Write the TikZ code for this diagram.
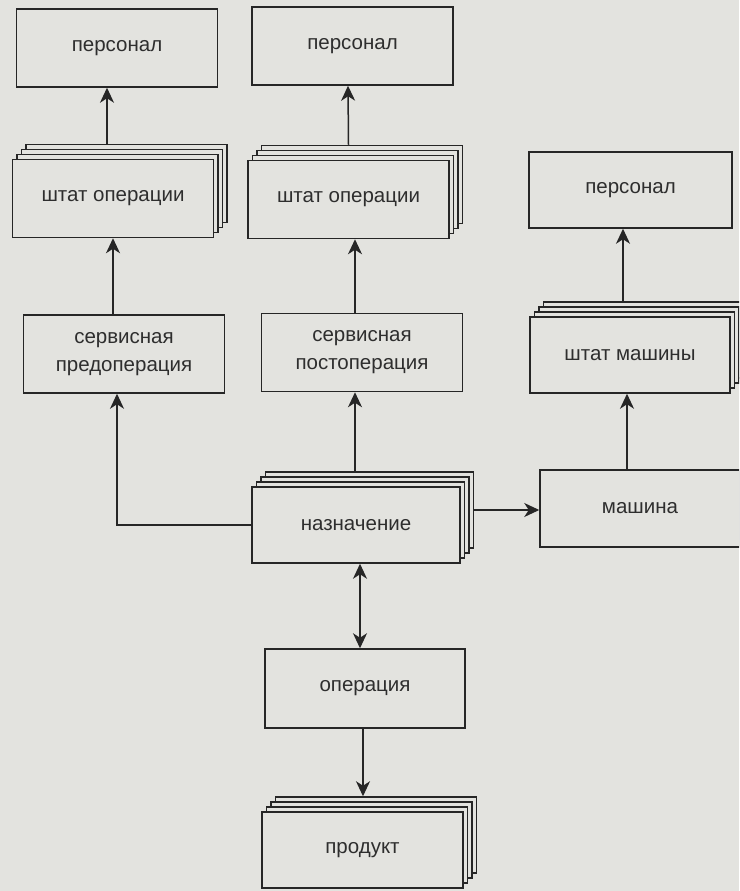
\documentclass[tikz,border=0pt]{standalone}
\usepackage{fontspec}
\setmainfont{Liberation Sans}
\usetikzlibrary{arrows.meta,shadows}
\definecolor{bgc}{HTML}{E3E3DF}
\definecolor{ink}{HTML}{262626}
\definecolor{txt}{HTML}{2E2E2E}
\begin{document}
\begin{tikzpicture}[x=1pt,y=-1pt,
  box/.style={draw=ink,line width=1.5pt,fill=bgc,rectangle,inner sep=0pt,
    text=txt,font=\fontsize{20.5}{28}\selectfont,align=center,
    minimum width=201pt,minimum height=78pt},
  stack/.style={box,
    copy shadow={shadow xshift=13.5pt,shadow yshift=15pt},
    copy shadow={shadow xshift=9pt,shadow yshift=10pt},
    copy shadow={shadow xshift=4.5pt,shadow yshift=5pt}},
  tip/.tip={Stealth[length=15pt,width=14pt,inset=4.5pt]},
  arr/.style={draw=ink,line width=1.5pt,-tip},
  darr/.style={draw=ink,line width=1.5pt,tip-tip}]
\useasboundingbox (0,0) rectangle (739,891);
\fill[bgc] (0,0) rectangle (739,891);
\clip (0,0) rectangle (739,891);
% nodes
\node[box] (p1) at (117,48) {персонал};
\node[box] (p2) at (352.5,46) {персонал};
\node[stack] (so1) at (113,198.5) {штат операции};
\node[stack] (so2) at (348.5,199.5) {штат операции};
\node[box] (pre) at (124,354) {сервисная\\предоперация};
\node[box] (post) at (362,352.5) {сервисная\\постоперация};
\node[stack,minimum width=208pt,minimum height=76pt] (nazn) at (356,525) {назначение};
\node[box,minimum width=203pt,minimum height=76pt] (p3) at (630.5,190) {персонал};
\node[stack,minimum width=200pt,minimum height=76pt] (shm) at (630,355) {штат машины};
\node[box,minimum width=200pt,minimum height=77pt] (mash) at (640,508.5) {машина};
\node[box,minimum width=200pt,minimum height=79pt] (oper) at (365,688.5) {операция};
\node[stack,minimum width=201pt,minimum height=76pt] (prod) at (362.5,850) {продукт};
% connectors
\draw[arr] ([xshift=-6pt,yshift=15pt]so1.north) -- ([xshift=-10pt]p1.south);
\draw[arr] ([xshift=-11pt]pre.north) -- (so1.south);
\draw[arr] (nazn.west) -| ([xshift=-7pt]pre.south);
\draw[arr] ([yshift=15pt]so2.north) -- ([xshift=-4.5pt]p2.south);
\draw[arr] ([xshift=-7pt]post.north) -- ([xshift=6.5pt]so2.south);
\draw[arr] ([xshift=-1pt,yshift=15pt]nazn.north) -- ([xshift=-7pt]post.south);
\draw[arr] ([xshift=13.5pt,yshift=15pt]nazn.east) -- ([yshift=-1.5pt]mash.west);
\draw[arr] ([xshift=-13pt]mash.north) -- ([xshift=-3pt]shm.south);
\draw[arr] ([xshift=-7pt,yshift=15pt]shm.north) -- ([xshift=-7.5pt]p3.south);
\draw[darr] ([xshift=4pt]nazn.south) -- ([xshift=-5pt]oper.north);
\draw[arr] ([xshift=-2pt]oper.south) -- ([xshift=0.5pt,yshift=15pt]prod.north);
\end{tikzpicture}
\end{document}
